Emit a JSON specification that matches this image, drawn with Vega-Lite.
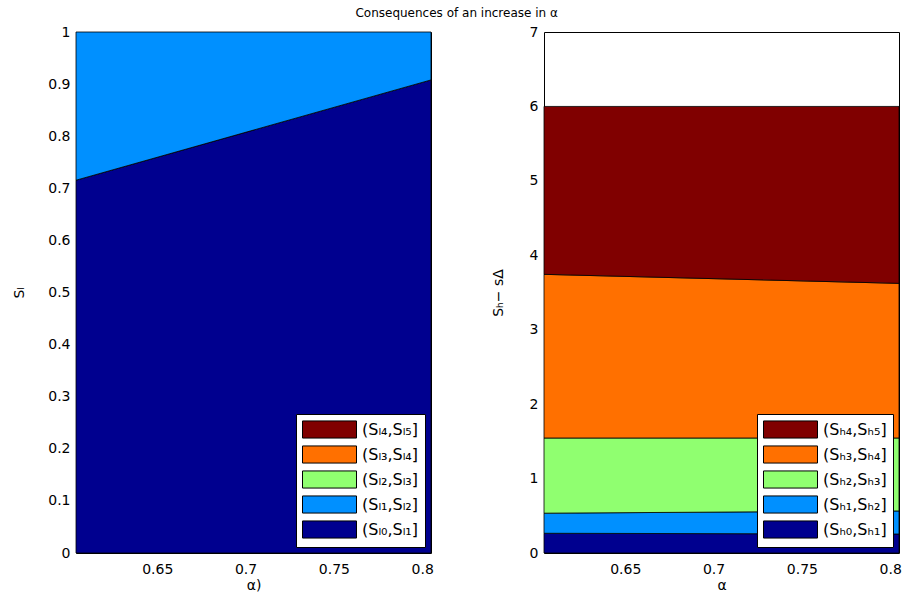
{
  "$schema": "https://vega.github.io/schema/vega-lite/v6.json",
  "padding": {"left": 11, "top": 6, "right": 6, "bottom": 0},
  "background": "white",
  "title": {"text": "Consequences of an increase in α", "fontSize": 12, "font": "DejaVu Sans", "fontWeight": "normal", "anchor": "middle", "color": "black", "offset": 5},
  "spacing": 56,
  "datasets": {
    "left": [
      {"alpha": 0.604, "lo": 0, "hi": 0.7155, "band": "(Sₗ₀,Sₗ₁]"},
      {"alpha": 0.805, "lo": 0, "hi": 0.908, "band": "(Sₗ₀,Sₗ₁]"},
      {"alpha": 0.604, "lo": 0.7155, "hi": 1, "band": "(Sₗ₁,Sₗ₂]"},
      {"alpha": 0.805, "lo": 0.908, "hi": 1, "band": "(Sₗ₁,Sₗ₂]"}
    ],
    "right": [
      {"alpha": 0.604, "lo": 0, "hi": 0.265, "band": "(Sₕ₀,Sₕ₁]"},
      {"alpha": 0.805, "lo": 0, "hi": 0.255, "band": "(Sₕ₀,Sₕ₁]"},
      {"alpha": 0.604, "lo": 0.265, "hi": 0.535, "band": "(Sₕ₁,Sₕ₂]"},
      {"alpha": 0.805, "lo": 0.255, "hi": 0.565, "band": "(Sₕ₁,Sₕ₂]"},
      {"alpha": 0.604, "lo": 0.535, "hi": 1.545, "band": "(Sₕ₂,Sₕ₃]"},
      {"alpha": 0.805, "lo": 0.565, "hi": 1.545, "band": "(Sₕ₂,Sₕ₃]"},
      {"alpha": 0.604, "lo": 1.545, "hi": 3.744, "band": "(Sₕ₃,Sₕ₄]"},
      {"alpha": 0.805, "lo": 1.545, "hi": 3.623, "band": "(Sₕ₃,Sₕ₄]"},
      {"alpha": 0.604, "lo": 3.744, "hi": 6, "band": "(Sₕ₄,Sₕ₅]"},
      {"alpha": 0.805, "lo": 3.623, "hi": 6, "band": "(Sₕ₄,Sₕ₅]"}
    ]
  },
  "hconcat": [
    {
      "width": 355,
      "height": 521,
      "data": {"name": "left"},
      "mark": {"type": "area", "stroke": "black", "strokeWidth": 0.8, "opacity": 1},
      "encoding": {
        "x": {"field": "alpha", "type": "quantitative", "scale": {"domain": [0.604, 0.805], "nice": false, "zero": false},
              "axis": {"title": "α)", "values": [0.65, 0.7, 0.75, 0.8], "format": "~g", "labelPadding": 9, "titlePadding": 2}},
        "y": {"field": "lo", "type": "quantitative", "scale": {"domain": [0, 1], "nice": false},
              "axis": {"title": "Sₗ", "values": [0, 0.1, 0.2, 0.3, 0.4, 0.5, 0.6, 0.7, 0.8, 0.9, 1], "format": "~g", "minExtent": 30, "maxExtent": 30, "titlePadding": 23, "titleBaseline": "alphabetic"}},
        "y2": {"field": "hi"},
        "color": {"field": "band", "type": "nominal",
                  "scale": {"domain": ["(Sₗ₄,Sₗ₅]", "(Sₗ₃,Sₗ₄]", "(Sₗ₂,Sₗ₃]", "(Sₗ₁,Sₗ₂]", "(Sₗ₀,Sₗ₁]"],
                            "range": ["#800000", "#FF7000", "#90FF70", "#0090FF", "#00008F"]},
                  "legend": {"title": null, "labelExpr": "datum.label + '\u2003\u2003\u2003'"}}
      }
    },
    {
      "width": 355,
      "height": 521,
      "data": {"name": "right"},
      "mark": {"type": "area", "stroke": "black", "strokeWidth": 0.8, "opacity": 1},
      "encoding": {
        "x": {"field": "alpha", "type": "quantitative", "scale": {"domain": [0.604, 0.805], "nice": false, "zero": false},
              "axis": {"title": "α", "values": [0.65, 0.7, 0.75, 0.8], "format": "~g", "labelPadding": 9, "titlePadding": 2}},
        "y": {"field": "lo", "type": "quantitative", "scale": {"domain": [0, 7], "nice": false},
              "axis": {"title": "Sₕ− sΔ", "values": [0, 1, 2, 3, 4, 5, 6, 7], "format": "~g", "minExtent": 14, "maxExtent": 14, "titlePadding": 28, "titleBaseline": "alphabetic"}},
        "y2": {"field": "hi"},
        "color": {"field": "band", "type": "nominal",
                  "scale": {"domain": ["(Sₕ₄,Sₕ₅]", "(Sₕ₃,Sₕ₄]", "(Sₕ₂,Sₕ₃]", "(Sₕ₁,Sₕ₂]", "(Sₕ₀,Sₕ₁]"],
                            "range": ["#800000", "#FF7000", "#90FF70", "#0090FF", "#00008F"]},
                  "legend": {"title": null, "labelExpr": "datum.label + '\u2003\u2003\u2003'"}}
      }
    }
  ],
  "resolve": {"scale": {"color": "independent"}, "legend": {"color": "independent"}},
  "config": {
    "font": "DejaVu Sans",
    "view": {"stroke": "black", "strokeWidth": 1},
    "axis": {"ticks": false, "tickSize": 0, "domain": false, "grid": false, "labelFontSize": 14, "titleFontSize": 14, "titleFontWeight": "normal", "labelColor": "black", "titleColor": "black", "labelPadding": 6},
    "legend": {"orient": "bottom-right", "offset": 6, "fillColor": "white", "strokeColor": "black", "padding": 6,
               "symbolType": "M-1,-0.95H5V0.95H-1Z", "symbolSize": 324, "symbolStrokeColor": "black", "symbolStrokeWidth": 1, "symbolOpacity": 1,
               "labelFontSize": 16, "labelColor": "black", "labelOffset": 41, "rowPadding": 2, "labelLimit": 250}
  }
}
